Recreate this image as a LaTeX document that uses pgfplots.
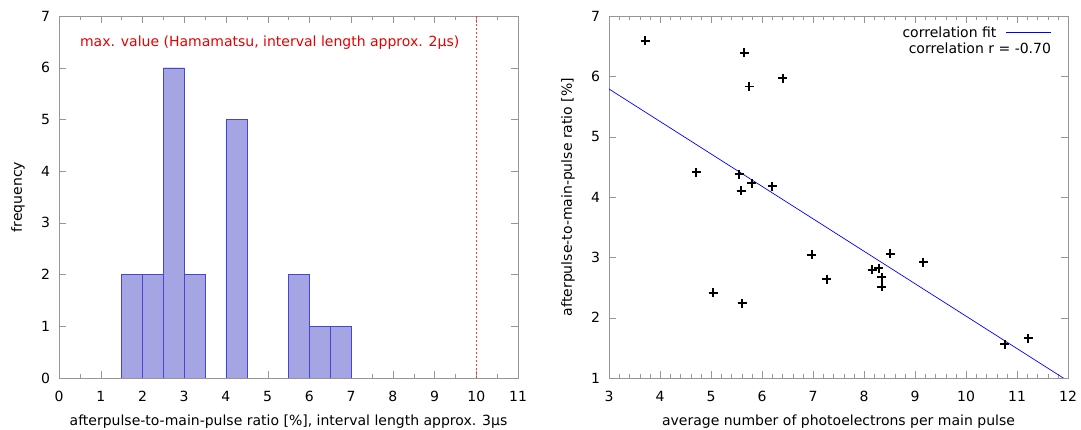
\documentclass[border=0pt]{standalone}
\usepackage{pgfplots}
\pgfplotsset{compat=1.18}
\usepackage{fontspec}
\setmainfont{DejaVu Sans}
\definecolor{barfill}{RGB}{165,165,228}
\definecolor{framegray}{RGB}{150,150,150}
\begin{document}
\fontsize{14}{16}\selectfont
\begin{tikzpicture}
\path[use as bounding box] (0pt,0pt) rectangle (1081pt,430pt);
\pgfplotsset{
  every axis/.append style={
    scale only axis, width=459pt, height=362pt,
    axis line style={framegray},
    tick style={framegray},
    major tick length=7pt, minor tick length=4pt,
    tick align=inside,
    /pgf/number format/assume math mode=true,
    tick label style={font=\fontsize{14}{16}\selectfont},
    label style={font=\fontsize{14}{16}\selectfont},
    xticklabel style={yshift=-8pt},
    yticklabel style={xshift=-4pt},
  }
}
\begin{axis}[
  at={(59pt,52pt)}, anchor=south west,
  xmin=0, xmax=11, ymin=0, ymax=7,
  xtick={0,1,...,11}, ytick={0,1,...,7},
  minor x tick num=1,
  xlabel={afterpulse-to-main-pulse ratio [\%], interval length approx. 3μs},
  ylabel={frequency},
  xlabel style={yshift=-4pt},
  ylabel style={yshift=7pt},
]
\addplot[ybar, bar width=0.5, bar shift=0pt, draw={rgb,255:red,70;green,70;blue,210}, fill=barfill]
 coordinates {(1.75,2)(2.25,2)(2.75,6)(3.25,2)(4.25,5)(5.75,2)(6.25,1)(6.75,1)};
\addplot[red!80, line width=0.8pt, dash pattern=on 2pt off 2pt] coordinates {(10,0)(10,7)};
\node[anchor=west, text=red!90!black, inner sep=0pt] at (axis cs:0.5,6.48) {max. value (Hamamatsu, interval length approx. 2μs)};
\end{axis}
\begin{axis}[
  at={(609pt,52pt)}, anchor=south west,
  xmin=3, xmax=12, ymin=1, ymax=7,
  xtick={3,4,...,12}, ytick={1,2,...,7},
  minor x tick num=4,
  xlabel={average number of photoelectrons per main pulse},
  ylabel={afterpulse-to-main-pulse ratio [\%]},
  xlabel style={yshift=-4pt},
  ylabel style={yshift=7pt},
]
\addplot[blue, line width=0.7pt] coordinates {(3,5.79)(12,0.95)};
\addplot[blue, line width=0.7pt] coordinates {(10.78,6.73)(11.67,6.73)};
\node[anchor=east, inner sep=0pt] at (axis cs:10.6,6.73) {correlation fit};
\node[anchor=east, inner sep=0pt] at (axis cs:11.67,6.47) {correlation r = -0.70};
\addplot[only marks, mark=+, mark size=4.5pt, line width=1.6pt, black] coordinates {
(3.71,6.59)(5.65,6.39)(5.75,5.83)(6.41,5.97)
(4.71,4.41)(5.55,4.38)(5.59,4.10)(5.80,4.23)(6.20,4.18)
(6.98,3.04)(8.51,3.06)(9.16,2.92)(8.16,2.79)(8.29,2.82)(8.35,2.67)(8.35,2.51)
(7.27,2.64)(5.04,2.41)(5.61,2.24)(10.76,1.56)(11.22,1.66)};
\end{axis}
\end{tikzpicture}
\end{document}
